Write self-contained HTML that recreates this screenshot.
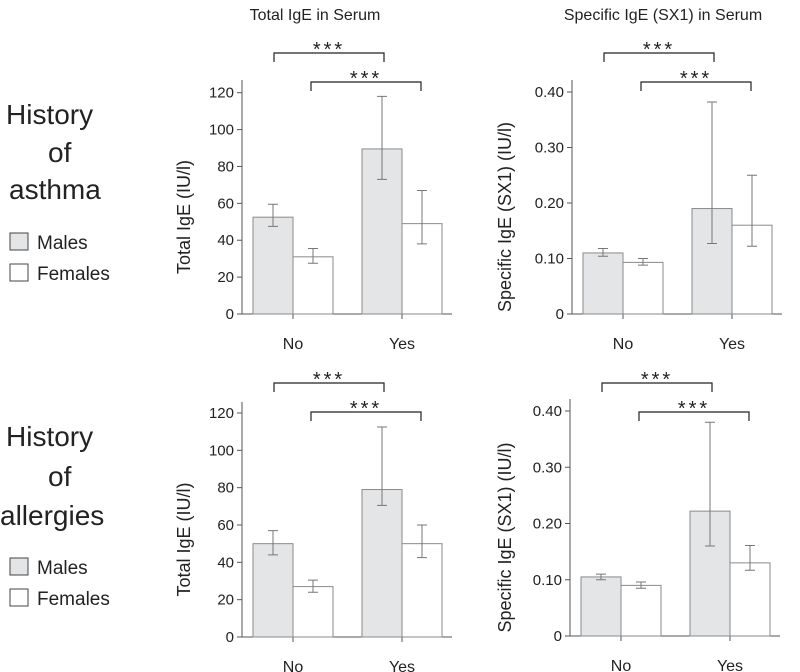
<!DOCTYPE html>
<html><head><meta charset="utf-8">
<style>
body{margin:0;background:#fff;}
svg{display:block;font-family:"Liberation Sans",Arial,sans-serif;}
</style></head>
<body>
<svg id="c" width="800" height="672" viewBox="0 0 800 672">
<text x="315" y="20" font-size="16" text-anchor="middle" fill="#222">Total IgE in Serum</text>
<text x="663" y="20" font-size="16" text-anchor="middle" fill="#222">Specific IgE (SX1) in Serum</text>
<g font-size="28" fill="#222">
<text x="6" y="124">History</text><text x="48" y="162">of</text><text x="9" y="199">asthma</text>
</g>
<g font-size="19" fill="#222">
<rect x="10" y="233" width="18" height="17" fill="#e4e5e7" stroke="#444"/>
<text x="37" y="249">Males</text>
<rect x="10" y="264" width="18" height="17" fill="#fff" stroke="#444"/>
<text x="37" y="280">Females</text>
</g>
<g font-size="28" fill="#222">
<text x="6" y="446">History</text><text x="48" y="486">of</text><text x="0" y="525">allergies</text>
</g>
<g font-size="19" fill="#222">
<rect x="10" y="558" width="18" height="17" fill="#e4e5e7" stroke="#444"/>
<text x="37" y="574">Males</text>
<rect x="10" y="589" width="18" height="17" fill="#fff" stroke="#444"/>
<text x="37" y="605">Females</text>
</g>
</svg>
<script>
const categories = ["No", "Yes"];
const totalTicks = ["0","20","40","60","80","100","120"];
const totalTickVals = [0,20,40,60,80,100,120];
const specTicks = ["0","0.10","0.20","0.30","0.40"];
const specTickVals = [0,0.1,0.2,0.3,0.4];
// asthma total
const p1Male = [52.5, 89.5];
const p1MaleLo = [47.5, 73];
const p1MaleHi = [59.5, 118];
const p1Female = [31, 49];
const p1FemaleLo = [27.5, 38];
const p1FemaleHi = [35.5, 67];
// asthma specific
const p2Male = [0.11, 0.19];
const p2MaleLo = [0.104, 0.127];
const p2MaleHi = [0.118, 0.382];
const p2Female = [0.093, 0.16];
const p2FemaleLo = [0.088, 0.122];
const p2FemaleHi = [0.1, 0.25];
// allergies total
const p3Male = [50, 79];
const p3MaleLo = [44, 70.5];
const p3MaleHi = [57, 112.5];
const p3Female = [27, 50];
const p3FemaleLo = [24, 42.5];
const p3FemaleHi = [30.5, 60];
// allergies specific
const p4Male = [0.105, 0.222];
const p4MaleLo = [0.1, 0.16];
const p4MaleHi = [0.11, 0.38];
const p4Female = [0.09, 0.13];
const p4FemaleLo = [0.085, 0.117];
const p4FemaleHi = [0.096, 0.161];

const svg = document.getElementById('c');
const NS = 'http://www.w3.org/2000/svg';
function mk(tag, attrs, parent){
  const e = document.createElementNS(NS, tag);
  for (const k in attrs) e.setAttribute(k, attrs[k]);
  parent.appendChild(e);
  return e;
}
function panel(o){
  const g = mk('g', {}, svg);
  
  
  const y = v => o.y0 - v / o.max * (o.y0 - o.yMax);
  const groupX = i => o.ax + 51 + i * 109;
  const bw = 40;
  const ya = mk('line', {x1:o.ax, y1:o.axTop, x2:o.ax, y2:o.y0, stroke:'#555', 'stroke-width':1}, g);
  
  
  const xa = mk('line', {x1:o.ax-5, y1:o.y0, x2:o.ax+210, y2:o.y0, stroke:'#555', 'stroke-width':1}, g);
  
  
  o.tickVals.forEach((v, i) => {
    const yy = y(v);
    const t = mk('line', {x1:o.ax-5, y1:yy, x2:o.ax, y2:yy, stroke:'#555'}, g);
    
    
    const tl = mk('text', {x:o.ax-8, y:yy+5, 'font-size':15, 'text-anchor':'end', fill:'#222'}, g);
    tl.textContent = o.ticks[i];
    
    
  });
  const yl = mk('text', {x:0, y:0, 'font-size':18, 'text-anchor':'middle', fill:'#222',
    transform:`translate(${o.ylx},${(o.axTop+o.y0)/2+20}) rotate(-90)`}, g);
  yl.textContent = o.ylabel;
  
  
  categories.forEach((c, i) => {
    const cx = groupX(i);
    const tk = mk('line', {x1:cx, y1:o.y0, x2:cx, y2:o.y0+5, stroke:'#555'}, g);
    
    
    const lb = mk('text', {x:cx, y:o.y0+35, 'font-size':16, 'text-anchor':'middle', fill:'#222'}, g);
    lb.textContent = c;
    
    
    [[o.m, o.mLo, o.mHi, cx-bw, '#e4e5e7', 'male'], [o.f, o.fLo, o.fHi, cx, '#fff', 'female']].forEach(s => {
      const v = s[0][i];
      const b = mk('rect', {x:s[3], y:y(v), width:bw, height:o.y0-y(v), fill:s[4], stroke:'#8a8a8a', 'stroke-width':1}, g);
      
      
      const mx = s[3] + bw/2;
      const e = mk('path', {d:`M${mx},${y(s[1][i])}V${y(s[2][i])}M${mx-5},${y(s[1][i])}H${mx+5}M${mx-5},${y(s[2][i])}H${mx+5}`, stroke:'#777', fill:'none'}, g);
      
      
    });
  });
  [[o.ax+32, o.ax+142, o.bY], [o.ax+69, o.ax+179, o.bY+29]].forEach(b => {
    const p = mk('path', {d:`M${b[0]},${b[2]+9}V${b[2]}H${b[1]}V${b[2]+9}`, stroke:'#222', fill:'none', 'stroke-width':1.2}, g);
    
    
    const st = mk('text', {x:(b[0]+b[1])/2, y:b[2]+3, 'font-size':20, 'text-anchor':'middle', fill:'#222', 'letter-spacing':'3'}, g);
    st.textContent = '***';
    
    
  });
}
panel({name:'chart-asthma-total', ax:242, axTop:80, y0:314, yMax:92.7, max:120, ticks:totalTicks, tickVals:totalTickVals,
  ylabel:'Total IgE (IU/l)', ylx:190, bY:53, m:p1Male, mLo:p1MaleLo, mHi:p1MaleHi, f:p1Female, fLo:p1FemaleLo, fHi:p1FemaleHi});
panel({name:'chart-asthma-specific', ax:572, axTop:80, y0:314, yMax:92, max:0.4, ticks:specTicks, tickVals:specTickVals,
  ylabel:'Specific IgE (SX1) (IU/l)', ylx:511, bY:53, m:p2Male, mLo:p2MaleLo, mHi:p2MaleHi, f:p2Female, fLo:p2FemaleLo, fHi:p2FemaleHi});
panel({name:'chart-allergies-total', ax:242, axTop:402, y0:637, yMax:413, max:120, ticks:totalTicks, tickVals:totalTickVals,
  ylabel:'Total IgE (IU/l)', ylx:190, bY:383, m:p3Male, mLo:p3MaleLo, mHi:p3MaleHi, f:p3Female, fLo:p3FemaleLo, fHi:p3FemaleHi});
panel({name:'chart-allergies-specific', ax:570, axTop:399, y0:636, yMax:411, max:0.4, ticks:specTicks, tickVals:specTickVals,
  ylabel:'Specific IgE (SX1) (IU/l)', ylx:511, bY:383, m:p4Male, mLo:p4MaleLo, mHi:p4MaleHi, f:p4Female, fLo:p4FemaleLo, fHi:p4FemaleHi});
</script>
</body></html>
